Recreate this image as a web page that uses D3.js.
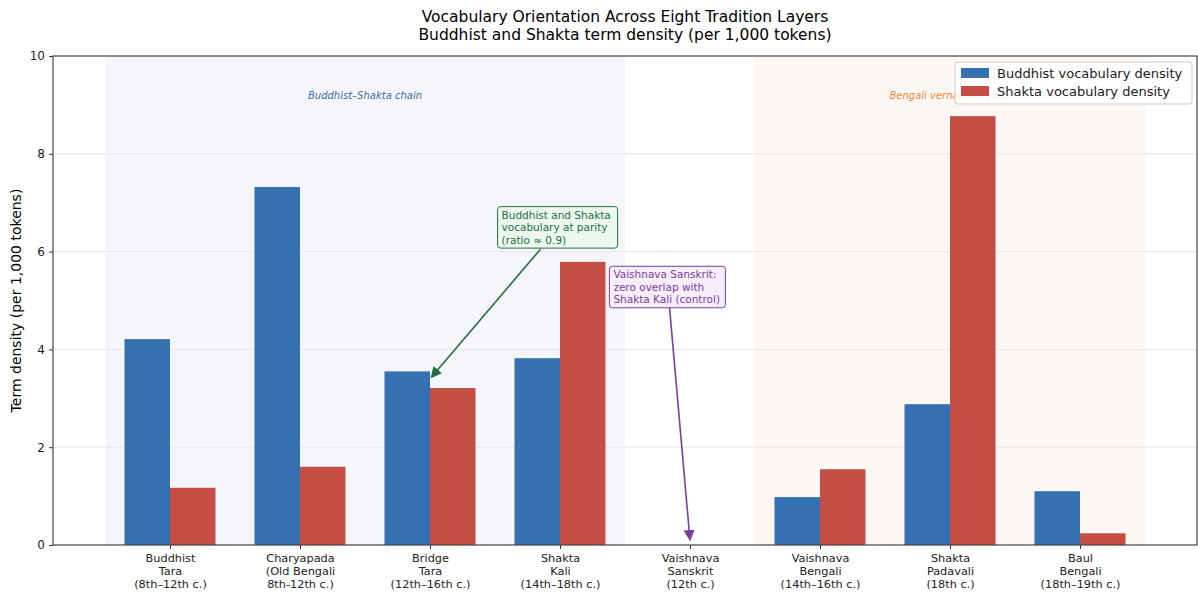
<!DOCTYPE html>
<html>
<head>
<meta charset="utf-8">
<script src="https://cdn.jsdelivr.net/npm/d3@7"></script>
<style>
  body { margin: 0; background: #fff; }
  text { font-family: "DejaVu Sans", sans-serif; }
</style>
</head>
<body>
<div id="chart"></div>
<script>
// chart data
var categories = [
	["Buddhist", "Tara", "(8th–12th c.)"],
	["Charyapada", "(Old Bengali", "8th-12th c.)"],
	["Bridge", "Tara", "(12th–16th c.)"],
	["Shakta", "Kali", "(14th–18th c.)"],
	["Vaishnava", "Sanskrit", "(12th c.)"],
	["Vaishnava", "Bengali", "(14th–16th c.)"],
	["Shakta", "Padavali", "(18th c.)"],
	["Baul", "Bengali", "(18th–19th c.)"]
];
var buddhistValues = [4.21, 7.32, 3.55, 3.82, 0, 0.98, 2.88, 1.10];
var shaktaValues = [1.17, 1.60, 3.21, 5.79, 0, 1.55, 8.77, 0.24];
var seriesNames = ["Buddhist vocabulary density", "Shakta vocabulary density"];
var yTicks = [0, 2, 4, 6, 8, 10];

var svgWidth = 1198;
var svgHeight = 594;
var margin = { top: 56, right: 1, bottom: 49, left: 53 };
var width = svgWidth - margin.left - margin.right;
var height = svgHeight - margin.top - margin.bottom;

var blue = "#3571b0";
var red = "#c44e44";

var svg = d3.select("#chart").append("svg")
	.attr("width", svgWidth)
	.attr("height", svgHeight);

// title
svg.append("text")
	.attr("x", 625).attr("y", 22)
	.attr("text-anchor", "middle")
	.style("font-size", "15.5px")
	.text("Vocabulary Orientation Across Eight Tradition Layers");
svg.append("text")
	.attr("x", 625).attr("y", 40)
	.attr("text-anchor", "middle")
	.style("font-size", "15.5px")
	.text("Buddhist and Shakta term density (per 1,000 tokens)");

var chartGroup = svg.append("g")
	.attr("transform", `translate(${margin.left}, ${margin.top})`);

// scales (index based, like a matplotlib bar axis)
var x = d3.scaleLinear().domain([-0.9, 7.9]).range([0, width]);
var y = d3.scaleLinear().domain([0, 10]).range([height, 0]);
var barW = 0.35;

// shaded zones
chartGroup.append("rect")
	.attr("x", x(-0.5)).attr("y", 0)
	.attr("width", x(3.5) - x(-0.5)).attr("height", height)
	.attr("fill", "#f5f6fb");
chartGroup.append("rect")
	.attr("x", x(4.5)).attr("y", 0)
	.attr("width", x(7.5) - x(4.5)).attr("height", height)
	.attr("fill", "#fdf7f4");

// gridlines
chartGroup.selectAll(".grid")
	.data(yTicks.filter(d => d > 0 && d < 10))
	.enter().append("line")
	.attr("x1", 0).attr("x2", width)
	.attr("y1", d => y(d)).attr("y2", d => y(d))
	.attr("stroke", "#e6e6e6").attr("stroke-width", 1);

// zone labels
chartGroup.append("text")
	.attr("x", x(1.5)).attr("y", y(9.12))
	.attr("text-anchor", "middle")
	.style("font-size", "10px").style("font-style", "italic")
	.attr("fill", "#3a6aa8")
	.text("Buddhist–Shakta chain");
chartGroup.append("text")
	.attr("x", x(6)).attr("y", y(9.12))
	.attr("text-anchor", "middle")
	.style("font-size", "10px").style("font-style", "italic")
	.attr("fill", "#e68a3c")
	.text("Bengali vernacular zone");

// bars
chartGroup.selectAll(".bar-b")
	.data(buddhistValues)
	.enter().append("rect")
	.attr("x", (d, i) => x(i - barW))
	.attr("y", d => y(d))
	.attr("width", x(barW) - x(0))
	.attr("height", d => y(0) - y(d))
	.attr("fill", blue);
chartGroup.selectAll(".bar-s")
	.data(shaktaValues)
	.enter().append("rect")
	.attr("x", (d, i) => x(i))
	.attr("y", d => y(d))
	.attr("width", x(barW) - x(0))
	.attr("height", d => y(0) - y(d))
	.attr("fill", red);

// axes
var leftAxis = d3.axisLeft(y).tickValues(yTicks).tickSize(4).tickPadding(4);
var yAxis = chartGroup.append("g").call(leftAxis);
yAxis.select(".domain").remove();
yAxis.selectAll("text").style("font-size", "12px").attr("fill", "#222");
yAxis.selectAll("line").attr("stroke", "#333");

var bottomAxis = d3.axisBottom(x).tickValues(d3.range(categories.length)).tickSize(4).tickFormat("");
var xAxis = chartGroup.append("g")
	.attr("transform", `translate(0, ${height})`)
	.call(bottomAxis);
xAxis.select(".domain").remove();
xAxis.selectAll("line").attr("stroke", "#333");

xAxis.selectAll(".tick").each(function (d) {
	var t = d3.select(this).append("text")
		.attr("fill", "#222")
		.attr("text-anchor", "middle")
		.style("font-size", "11.3px");
	categories[d].forEach(function (line, j) {
		t.append("tspan").attr("x", 0).attr("y", 17 + j * 13).text(line);
	});
});

// frame
chartGroup.append("rect")
	.attr("x", 0).attr("y", 0)
	.attr("width", width).attr("height", height)
	.attr("fill", "none").attr("stroke", "#444").attr("stroke-width", 1.2);

// y label
svg.append("text")
	.attr("transform", `translate(21, ${margin.top + height / 2}) rotate(-90)`)
	.attr("text-anchor", "middle")
	.style("font-size", "14px")
	.text("Term density (per 1,000 tokens)");

// arrowheads
var defs = svg.append("defs");
[["arrGreen", "#247040"], ["arrPurple", "#7a3ea0"]].forEach(function (m) {
	defs.append("marker")
		.attr("id", m[0])
		.attr("viewBox", "0 0 10 10")
		.attr("refX", 9).attr("refY", 5)
		.attr("markerWidth", 7).attr("markerHeight", 7)
		.attr("orient", "auto-start-reverse")
		.append("path").attr("d", "M0,0 L10,5 L0,10 z").attr("fill", m[1]);
});

function annotate(lines, boxX, boxY, boxW, fromX, fromY, toX, toY, stroke, fill, textColor, marker) {
	chartGroup.append("line")
		.attr("x1", fromX).attr("y1", fromY)
		.attr("x2", toX).attr("y2", toY)
		.attr("stroke", stroke).attr("stroke-width", 1.6)
		.attr("marker-end", `url(#${marker})`);
	chartGroup.append("rect")
		.attr("x", boxX).attr("y", boxY)
		.attr("width", boxW).attr("height", lines.length * 12.5 + 4)
		.attr("rx", 3)
		.attr("fill", fill).attr("stroke", stroke).attr("stroke-width", 1);
	var t = chartGroup.append("text")
		.attr("fill", textColor)
		.style("font-size", "10.5px");
	lines.forEach(function (line, j) {
		t.append("tspan").attr("x", boxX + 4).attr("y", boxY + 12 + j * 12.5).text(line);
	});
}

// parity note -> Bridge Tara bars
annotate(["Buddhist and Shakta", "vocabulary at parity", "(ratio ≈ 0.9)"],
	x(2.52), y(6.92), 120,
	x(2.85), y(6.05), x(2.01), y(buddhistValues[2] - 0.12),
	"#247040", "#ecf7ee", "#247040", "arrGreen");

// control note -> Vaishnava Sanskrit
annotate(["Vaishnava Sanskrit:", "zero overlap with", "Shakta Kali (control)"],
	x(3.38), y(5.7), 116,
	x(3.84), y(4.93), x(4), y(0.1),
	"#7a3ea0", "#f6eefa", "#7a3ea0", "arrPurple");

// legend
var legend = chartGroup.append("g")
	.attr("transform", `translate(${width - 242}, 6)`);
legend.append("rect")
	.attr("width", 237).attr("height", 42).attr("rx", 3)
	.attr("fill", "#fff").attr("fill-opacity", 0.85)
	.attr("stroke", "#ccc");
[blue, red].forEach(function (c, i) {
	legend.append("rect")
		.attr("x", 6).attr("y", 6 + i * 18)
		.attr("width", 28).attr("height", 10)
		.attr("fill", c);
	legend.append("text")
		.attr("x", 42).attr("y", 16 + i * 18)
		.style("font-size", "13px")
		.attr("fill", "#222")
		.text(seriesNames[i]);
});
</script>
</body>
</html>
